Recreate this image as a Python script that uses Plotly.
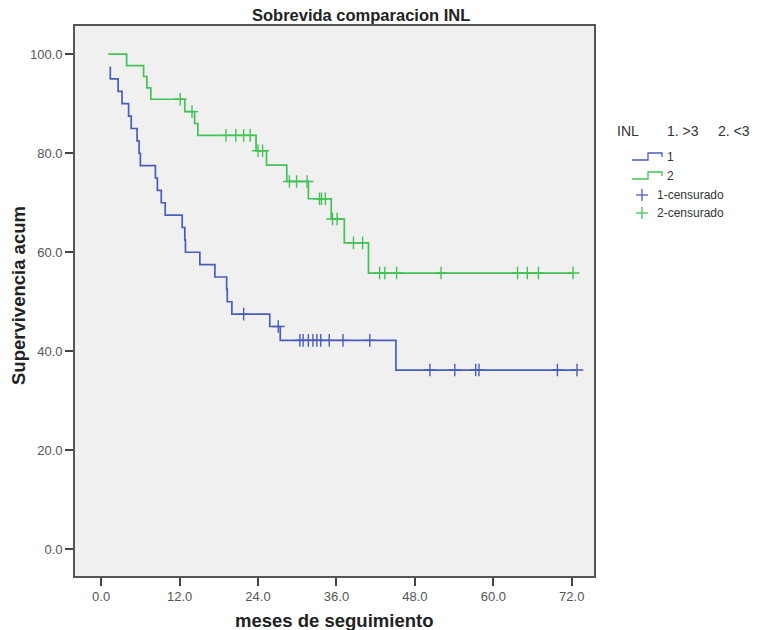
import numpy as np
import plotly.graph_objects as go

# ---------------- data ----------------
g1_start_time = 1.4
g1_start_surv = 97.5
g1_event_times = [1.4, 2.6, 3.2, 4.2, 4.6, 5.5, 5.8, 6.0, 8.3, 8.6, 9.2, 9.8,
                  12.4, 12.8, 12.9, 15.1, 17.4, 19.2, 19.3, 20.0, 25.8, 27.4, 45.1]
g1_event_surv = [95.0, 92.5, 90.0, 87.5, 85.0, 82.5, 80.0, 77.5, 75.0, 72.5, 70.0, 67.5,
                 65.0, 62.5, 60.0, 57.5, 55.0, 52.5, 50.0, 47.5, 45.0, 42.2, 36.2]
g1_censor_times = [21.8, 27.1, 30.4, 30.9, 31.7, 32.4, 33.0, 33.6, 34.9, 37.0, 41.1,
                   50.3, 54.1, 57.3, 57.8, 69.8, 72.8]

g2_start_time = 1.1
g2_start_surv = 100.0
g2_event_times = [3.9, 6.5, 7.0, 7.6, 12.8, 14.3, 14.8, 23.7, 25.3, 28.4, 31.7, 35.2, 37.2, 40.9]
g2_event_surv = [97.7, 95.5, 93.2, 90.9, 88.4, 86.0, 83.6, 80.5, 77.6, 74.3, 70.8, 66.7, 61.9, 55.8]
g2_censor_times = [12.1, 13.9, 19.1, 20.6, 21.8, 22.8, 24.0, 24.7, 28.8, 29.9, 31.5, 33.4, 33.7,
                   34.3, 35.4, 36.1, 38.6, 40.0, 42.6, 43.4, 45.2, 52.0, 63.7, 65.2, 66.9, 72.2]

x_ticks = [0, 12, 24, 36, 48, 60, 72]
y_ticks = [0, 20, 40, 60, 80, 100]

title_text = "Sobrevida comparacion INL"
x_title = "meses de seguimiento"
y_title = "Supervivencia acum"
legend_title_parts = ["INL", "1. &gt;3", "2. &lt;3"]
legend_labels = ["1", "2", "1-censurado", "2-censurado"]

BLUE = "#4a5db8"
GREEN = "#43c257"
FONT = "Liberation Sans, Arial, sans-serif"

W, H = 759, 630
L, R, T, B = 75, 594, 26, 576


def surv_at(start_t, start_v, ev_t, ev_s, t):
    v = start_v
    for et, es in zip(ev_t, ev_s):
        if et <= t:
            v = es
    return v


def step_xy(start_t, start_v, ev_t, ev_s, cens_t):
    end_t = max(cens_t + ev_t)
    xs = [start_t] + list(ev_t) + [end_t]
    ys = [start_v] + list(ev_s) + [ev_s[-1]]
    return xs, ys


fig = go.Figure()

groups = [
    (g1_start_time, g1_start_surv, g1_event_times, g1_event_surv, g1_censor_times, BLUE),
    (g2_start_time, g2_start_surv, g2_event_times, g2_event_surv, g2_censor_times, GREEN),
]
for st, sv, et, es, ct, col in groups:
    xs, ys = step_xy(st, sv, et, es, ct)
    fig.add_trace(go.Scatter(x=xs, y=ys, mode="lines", line=dict(color=col, width=1.7, shape="hv"),
                             showlegend=False, hoverinfo="skip"))
for st, sv, et, es, ct, col in groups:
    cy = [surv_at(st, sv, et, es, t) for t in ct]
    fig.add_trace(go.Scatter(x=ct, y=cy, mode="markers",
                             marker=dict(symbol="cross-thin", size=9, line=dict(color=col, width=1.4)),
                             showlegend=False, hoverinfo="skip"))


def px(x):
    return (x - L) / (R - L)


def py(y):
    return (B - y) / (B - T)


shapes = []
annotations = []

# title and axis titles
annotations.append(dict(text=f"<b>{title_text}</b>", x=px(361), y=py(15), xref="paper", yref="paper",
                        showarrow=False, font=dict(size=16.5, color="#222", family=FONT),
                        xanchor="center", yanchor="middle"))
annotations.append(dict(text=f"<b>{x_title}</b>", x=px(334), y=py(620), xref="paper", yref="paper",
                        showarrow=False, font=dict(size=18.5, color="#222", family=FONT),
                        xanchor="center", yanchor="middle"))
annotations.append(dict(text=f"<b>{y_title}</b>", x=px(18), y=py(296), xref="paper", yref="paper",
                        showarrow=False, textangle=-90, font=dict(size=18.5, color="#222", family=FONT),
                        xanchor="center", yanchor="middle"))

# custom legend
for txt, xl in zip(legend_title_parts, [615, 665, 716]):
    annotations.append(dict(text=txt, x=px(xl), y=py(131), xref="paper", yref="paper",
                            showarrow=False, font=dict(size=14, color="#333", family=FONT),
                            xanchor="left", yanchor="middle"))
for i, (col, yc) in enumerate([(BLUE, 157), (GREEN, 176)]):
    path = f"M {px(632)} {py(yc+3)} L {px(648)} {py(yc+3)} L {px(648)} {py(yc-4)} L {px(662)} {py(yc-4)} L {px(662)} {py(yc)}"
    shapes.append(dict(type="path", path=path, xref="paper", yref="paper",
                       line=dict(color=col, width=1.3)))
    annotations.append(dict(text=legend_labels[i], x=px(665), y=py(yc), xref="paper", yref="paper",
                            showarrow=False, font=dict(size=12, color="#333", family=FONT),
                            xanchor="left", yanchor="middle"))
for i, (col, yc) in enumerate([(BLUE, 195), (GREEN, 213)]):
    shapes.append(dict(type="line", x0=px(636), x1=px(648), y0=py(yc), y1=py(yc), xref="paper", yref="paper",
                       line=dict(color=col, width=1.3)))
    shapes.append(dict(type="line", x0=px(642), x1=px(642), y0=py(yc - 6), y1=py(yc + 6), xref="paper",
                       yref="paper", line=dict(color=col, width=1.3)))
    annotations.append(dict(text=legend_labels[2 + i], x=px(655), y=py(yc), xref="paper", yref="paper",
                            showarrow=False, font=dict(size=12, color="#333", family=FONT),
                            xanchor="left", yanchor="middle"))

fig.update_layout(
    width=W, height=H,
    margin=dict(l=L, r=W - R, t=T, b=H - B, pad=0),
    paper_bgcolor="white",
    plot_bgcolor="#f0f0f0",
    font=dict(family=FONT, size=13, color="#444"),
    shapes=shapes,
    annotations=annotations,
    showlegend=False,
)
fig.update_xaxes(range=[-4.0, 75.4], tickvals=x_ticks, tickformat=".1f",
                 showgrid=False, zeroline=False, showline=True, linecolor="#555", linewidth=1.6,
                 mirror=True, ticks="outside", ticklen=8, tickwidth=1.5, tickcolor="#444",
                 tickfont=dict(size=13, color="#555", family=FONT))
fig.update_yaxes(range=[-5.4, 105.7], tickvals=y_ticks, tickformat=".1f",
                 showgrid=False, zeroline=False, showline=True, linecolor="#555", linewidth=1.6,
                 mirror=True, ticks="outside", ticklen=8, tickwidth=1.5, tickcolor="#444",
                 tickfont=dict(size=13, color="#555", family=FONT))

fig.write_html("out.html", config={"displayModeBar": False},
               post_script="document.body.style.margin='0px';")
